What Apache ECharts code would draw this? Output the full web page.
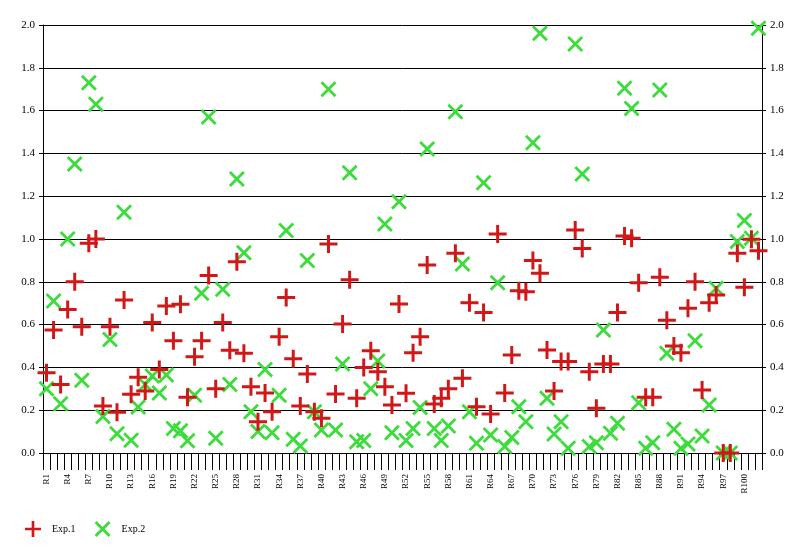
<!DOCTYPE html>
<html>
<head>
<meta charset="utf-8">
<script src="https://cdn.jsdelivr.net/npm/echarts@6/dist/echarts.min.js"></script>
<style>
html,body{margin:0;padding:0;background:#fff;}
#chart{width:806px;height:554px;}
</style>
</head>
<body>
<div id="chart"></div>
<script>
const categories = [];
for (let i = 1; i <= 102; i++) categories.push('R' + i);

const exp1 = [
0.375,0.575,0.32,0.67,0.80,0.59,0.98,1.00,0.22,0.59,
0.19,0.715,0.275,0.354,0.29,0.61,0.39,0.687,0.525,0.695,
0.26,0.45,0.525,0.83,0.30,0.61,0.48,0.894,0.466,0.31,
0.146,0.28,0.193,0.543,0.727,0.44,0.22,0.369,0.193,0.162,
0.977,0.276,0.603,0.81,0.256,0.40,0.478,0.38,0.31,0.224,
0.696,0.279,0.469,0.543,0.878,0.229,0.256,0.30,0.933,0.349,
0.702,0.216,0.656,0.182,1.023,0.28,0.458,0.758,0.754,0.90,
0.84,0.481,0.29,0.427,0.427,1.042,0.956,0.38,0.209,0.416,
0.416,0.656,1.014,1.003,0.796,0.26,0.26,0.821,0.62,0.50,
0.469,0.676,0.80,0.294,0.702,0.738,0.0,0.0,0.933,0.774,
0.999,0.945
];

const exp2 = [
0.30,0.71,0.23,1.00,1.35,0.34,1.73,1.63,0.17,0.53,
0.09,1.125,0.06,0.215,0.32,0.36,0.28,0.364,0.115,0.104,
0.057,0.27,0.746,1.57,0.069,0.765,0.32,1.28,0.936,0.193,
0.10,0.39,0.095,0.27,1.04,0.064,0.033,0.90,0.193,0.107,
1.70,0.107,0.416,1.31,0.053,0.058,0.30,0.43,1.07,0.095,
1.174,0.058,0.115,0.213,1.42,0.115,0.058,0.126,1.595,0.883,
0.193,0.045,1.263,0.084,0.796,0.03,0.073,0.216,0.146,1.45,
1.961,0.256,0.089,0.146,0.022,1.911,1.304,0.03,0.048,0.575,
0.092,0.139,1.704,1.61,0.235,0.022,0.048,1.696,0.466,0.111,
0.022,0.042,0.525,0.08,0.224,0.77,0.0,0.0,0.988,1.086,
1.003,1.985
];

const yMin = 0, yMax = 2.0, yStep = 0.2;

const plusPath = 'path://M7.5,0H10.5V7.5H18V10.5H10.5V18H7.5V10.5H0V7.5H7.5Z';
const crossPath = 'path://M0,2L2,0L8,6L14,0L16,2L10,8L16,14L14,16L8,10L2,16L0,14L6,8Z';

const serif = '"Liberation Serif","DejaVu Serif",serif';

const yAxisCommon = {
  type: 'value', min: yMin, max: yMax, interval: yStep,
  axisLine: {show: true, lineStyle: {color: '#000', width: 1}},
  axisTick: {show: true, length: 4, lineStyle: {color: '#000'}},
  axisLabel: {color: '#000', fontFamily: serif, fontSize: 11, margin: 8,
    formatter: v => v.toFixed(1)},
};

const chart = echarts.init(document.getElementById('chart'), null, {renderer: 'canvas'});
chart.setOption({
  animation: false,
  backgroundColor: '#fff',
  grid: {left: 43, right: 44, top: 25, bottom: 101, containLabel: false},
  legend: {
    left: 20, top: 516, itemWidth: 16, itemHeight: 16, itemGap: 19,
    textStyle: {color: '#000', fontFamily: serif, fontSize: 10, padding: [0, 0, 0, 6]},
    data: [
      {name: 'Exp.1', icon: plusPath, itemStyle: {color: '#d01818'}},
      {name: 'Exp.2', icon: crossPath, itemStyle: {color: '#3ddc3d'}}
    ]
  },
  xAxis: {
    type: 'category', data: categories, boundaryGap: true,
    axisLine: {show: true, lineStyle: {color: '#000', width: 1}},
    axisTick: {show: true, interval: 0, length: 17, lineStyle: {color: '#000'}},
    axisLabel: {interval: 2, rotate: 90, color: '#000', fontFamily: serif, fontSize: 9, margin: 21},
    splitLine: {show: false}
  },
  yAxis: [
    Object.assign({}, yAxisCommon, {position: 'left',
      splitLine: {show: true, lineStyle: {color: '#000', width: 1}}}),
    Object.assign({}, yAxisCommon, {position: 'right',
      splitLine: {show: false}})
  ],
  series: [
    {name: 'Exp.1', type: 'scatter', data: exp1, symbol: plusPath, symbolSize: 18,
      itemStyle: {color: '#d01818', opacity: 1}, z: 3},
    {name: 'Exp.2', type: 'scatter', data: exp2, symbol: crossPath, symbolSize: 16,
      itemStyle: {color: '#3ddc3d', opacity: 1}, z: 2}
  ]
});
</script>
</body>
</html>
